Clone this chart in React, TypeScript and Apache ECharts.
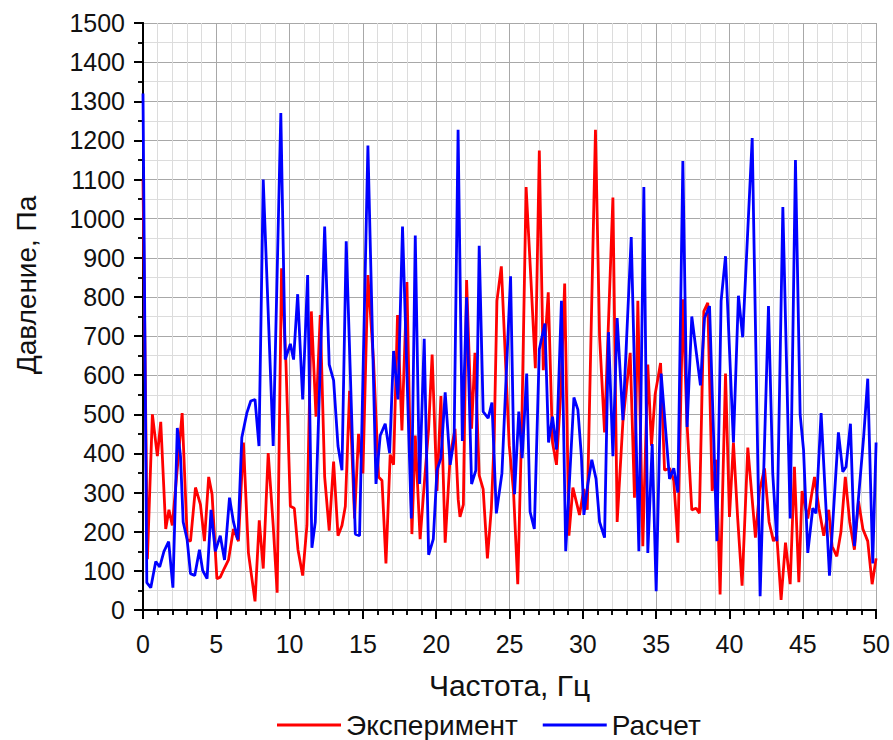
import React, { useEffect, useRef } from "react";
import * as echarts from "echarts";

// Частота, Гц / Давление, Па — Эксперимент
const expFreq = [
  0, 0.3, 0.64, 0.98, 1.21, 1.55, 1.77, 2.0, 2.67, 3.02, 3.24, 3.58, 3.92, 4.19, 4.48, 4.71,
  5.04, 5.27, 5.54, 5.83, 6.17, 6.51, 6.85, 7.19, 7.64, 7.93, 8.2, 8.54, 8.88, 9.15, 9.45, 9.75,
  10.05, 10.32, 10.57, 10.89, 11.18, 11.48, 11.8, 12.09, 12.39, 12.7, 13.0, 13.3, 13.57, 13.8,
  14.09, 14.43, 14.7, 15.0, 15.34, 15.73, 16.07, 16.3, 16.57, 16.86, 17.09, 17.36, 17.66, 18.0,
  18.34, 18.57, 18.9, 19.2, 19.48, 19.72, 20.05, 20.32, 20.61, 20.95, 21.28, 21.5, 21.62, 21.85,
  22.07, 22.41, 22.64, 22.93, 23.2, 23.49, 23.76, 23.95, 24.14, 24.44, 24.7, 24.98, 25.27, 25.56,
  25.85, 26.13, 26.45, 26.76, 27.03, 27.3, 27.64, 27.93, 28.2, 28.5, 28.76, 29.05, 29.32, 29.77,
  30.07, 30.3, 30.86, 31.14, 31.48, 32.05, 32.34, 32.73, 33.23, 33.52, 33.75, 34.09, 34.43, 34.68,
  34.93, 35.3, 35.57, 35.91, 36.2, 36.48, 36.82, 37.1, 37.43, 37.73, 37.95, 38.25, 38.52, 38.82,
  39.1, 39.36, 39.73, 40.0, 40.27, 40.55, 40.86, 41.25, 41.77, 42.05, 42.39, 42.7, 43.0, 43.23,
  43.52, 43.82, 44.14, 44.43, 44.73, 44.95, 45.34, 45.8, 46.1, 46.43, 46.77, 47.0, 47.32, 47.6,
  47.9, 48.2, 48.52, 48.8, 49.1, 49.43, 49.73, 50,
];
const expVal = [
  1100, 130, 500, 393, 481, 207, 256, 216, 503, 180, 176, 313, 269, 176, 340, 296,
  80, 84, 106, 128, 207, 176, 428, 146, 22, 229, 106, 401, 216, 44, 873, 631,
  265, 260, 154, 88, 216, 763, 494, 754, 340, 203, 379, 190, 216, 265,
  560, 234, 450, 349, 856, 631, 340, 331, 119, 397, 371, 754, 459, 838,
  194, 446, 181, 330, 463, 653, 304, 547, 172, 393, 463, 282, 238, 269,
  843, 463, 657, 344, 309, 132, 260, 437, 790, 878, 657, 420, 304, 66,
  500, 1081, 850, 618, 1174, 613, 812, 428, 371, 560, 834, 190, 313, 243,
  309, 256, 1227, 700, 454, 1054, 225, 481, 657, 287, 790, 163, 627, 420,
  551, 631, 357, 362, 331, 172, 794, 480, 256, 260, 247, 763, 785, 304,
  384, 40, 604, 238, 428, 240, 62, 415, 185, 304, 362, 225, 176, 190,
  26, 172, 66, 366, 71, 304, 234, 340, 260, 190, 256, 163, 137, 199,
  340, 225, 154, 278, 207, 176, 66, 132,
];

// Расчет
const calcFreq = [
  0, 0.26, 0.53, 0.87, 1.14, 1.43, 1.75, 2.04, 2.34, 2.56, 2.74, 3.01, 3.24, 3.53, 3.85, 4.07,
  4.37, 4.64, 4.93, 5.27, 5.56, 5.9, 6.17, 6.47, 6.74, 7.08, 7.35, 7.64, 7.91, 8.2, 8.88, 9.4,
  9.7, 10.05, 10.27, 10.55, 10.89, 11.23, 11.52, 11.75, 12.39, 12.7, 13.0, 13.3, 13.57, 13.86,
  14.48, 14.77, 15.34, 15.89, 16.18, 16.52, 16.82, 17.09, 17.39, 17.7, 18.3, 18.57, 18.86, 19.18,
  19.48, 19.8, 20.05, 20.32, 20.61, 20.95, 21.22, 21.49, 21.78, 22.07, 22.41, 22.7, 22.93, 23.2,
  23.54, 23.8, 24.1, 24.48, 25.07, 25.34, 25.63, 25.86, 26.17, 26.4, 26.69, 27.03, 27.41, 27.66,
  27.93, 28.2, 28.54, 28.83, 29.39, 29.66, 29.9, 30.07, 30.34, 30.61, 30.9, 31.14, 31.48, 31.75,
  32.05, 32.34, 32.73, 33.3, 33.82, 34.16, 34.43, 34.73, 35.0, 35.34, 35.91, 36.2, 36.48, 36.82,
  37.11, 37.43, 38.02, 38.3, 38.64, 39.14, 39.43, 39.73, 40.27, 40.61, 40.9, 41.55, 42.09, 42.66,
  42.95, 43.23, 43.64, 44.14, 44.5, 44.82, 45.05, 45.34, 45.68, 45.9, 46.25, 46.82, 47.43, 47.73,
  47.95, 48.25, 48.52, 49.14, 49.43, 49.77, 50,
];
const calcVal = [
  1320, 70, 57, 124, 110, 150, 175, 57, 465, 392, 225, 180, 93, 88, 154, 101,
  80, 256, 150, 190, 128, 287, 225, 180, 441, 503, 534, 538, 419, 1100, 419, 1270,
  640, 680, 640, 807, 538, 856, 159, 225, 980, 627, 587, 419, 357, 942,
  194, 190, 1187, 322, 446, 476, 401, 662, 538, 980, 234, 957, 322, 693,
  141, 181, 357, 388, 556, 371, 437, 1227, 432, 799, 322, 357, 931, 507,
  490, 530, 247, 349, 853, 296, 507, 388, 604, 251, 207, 666, 732, 428,
  494, 410, 790, 150, 543, 512, 393, 243, 322, 384, 335, 225, 185, 710,
  393, 746, 485, 953, 150, 1081, 146, 424, 48, 604, 335, 362, 300, 1147,
  468, 750, 574, 746, 777, 176, 790, 904, 428, 803, 697, 1206, 35, 777,
  349, 176, 1030, 234, 1150, 499, 410, 146, 260, 247, 503, 88, 454, 353,
  366, 476, 163, 437, 591, 119, 428,
];

const seriesNames = ["Эксперимент", "Расчет"];
const seriesColors = ["#ff0000", "#0000ff"];
const xTitle = "Частота, Гц";
const yTitle = "Давление, Па";

const FONT = "'Liberation Sans', Arial, sans-serif";

export default function App() {
  const ref = useRef<HTMLDivElement>(null);

  useEffect(() => {
    if (!ref.current) return;
    const chart = echarts.init(ref.current, null, { renderer: "svg" });

    const expData = expFreq.map((f, i) => [f, expVal[i]]);
    const calcData = calcFreq.map((f, i) => [f, calcVal[i]]);

    const axisLine = { show: true, lineStyle: { color: "#000", width: 2 } };
    const majorSplit = { show: true, lineStyle: { color: "#a8a8a8", width: 1 } };
    const minorSplit = { show: true, lineStyle: { color: "#dcdcdc", width: 1 } };

    chart.setOption({
      animation: false,
      backgroundColor: "#ffffff",
      grid: { left: 143, right: 15, top: 23, bottom: 130, containLabel: false },
      legend: {
        top: 711,
        left: 277,
        padding: 0,
        icon: "rect",
        itemWidth: 64,
        itemHeight: 3,
        itemGap: 25,
        textStyle: { fontFamily: FONT, fontSize: 28, color: "#111" },
        data: seriesNames,
      },
      graphic: [
        {
          type: "text",
          x: 26,
          y: 285,
          rotation: Math.PI / 2,
          style: {
            text: yTitle,
            fontFamily: FONT,
            fontSize: 28,
            fill: "#111",
            align: "center",
            verticalAlign: "middle",
          },
        },
      ],
      xAxis: [
        {
          type: "value",
          min: 0,
          max: 50,
          interval: 5,
          name: xTitle,
          nameLocation: "middle",
          nameGap: 60,
          nameTextStyle: { fontFamily: FONT, fontSize: 30, color: "#111" },
          axisLine,
          axisTick: { show: true, inside: false, length: 9, lineStyle: { color: "#000", width: 2 } },
          minorTick: { show: true, splitNumber: 5, length: 5, lineStyle: { color: "#000", width: 1.5 } },
          axisLabel: { fontFamily: FONT, fontSize: 25, color: "#111", margin: 21 },
          splitLine: majorSplit,
          minorSplitLine: minorSplit,
        },
        {
          type: "value",
          position: "top",
          min: 0,
          max: 50,
          interval: 5,
          axisLine,
          axisTick: { show: true, inside: true, length: 8, lineStyle: { color: "#000", width: 2 } },
          minorTick: { show: true, splitNumber: 5, length: 5, lineStyle: { color: "#000", width: 1.5 } },
          axisLabel: { show: false },
          splitLine: { show: false },
        },
      ],
      yAxis: [
        {
          type: "value",
          min: 0,
          max: 1500,
          interval: 100,
          axisLine,
          axisTick: { show: true, inside: false, length: 9, lineStyle: { color: "#000", width: 2 } },
          minorTick: { show: true, splitNumber: 2, length: 5, lineStyle: { color: "#000", width: 1.5 } },
          axisLabel: {
            fontFamily: FONT,
            fontSize: 25,
            color: "#111",
            margin: 18,
            formatter: (v: number) => String(v),
          },
          splitLine: majorSplit,
          minorSplitLine: minorSplit,
        },
        {
          type: "value",
          position: "right",
          min: 0,
          max: 1500,
          interval: 100,
          axisLine,
          axisTick: { show: true, inside: true, length: 8, lineStyle: { color: "#000", width: 2 } },
          minorTick: { show: true, splitNumber: 2, length: 5, lineStyle: { color: "#000", width: 1.5 } },
          axisLabel: { show: false },
          splitLine: { show: false },
        },
      ],
      series: [
        {
          name: seriesNames[0],
          type: "line",
          xAxisIndex: 0,
          yAxisIndex: 0,
          data: expData,
          showSymbol: false,
          symbol: "none",
          color: seriesColors[0],
          lineStyle: { color: seriesColors[0], width: 2.8 },
          z: 2,
        },
        {
          name: seriesNames[1],
          type: "line",
          xAxisIndex: 0,
          yAxisIndex: 0,
          data: calcData,
          showSymbol: false,
          symbol: "none",
          color: seriesColors[1],
          lineStyle: { color: seriesColors[1], width: 2.8 },
          z: 3,
        },
      ],
    });

    return () => chart.dispose();
  }, []);

  return (
    <div
      ref={ref}
      style={{ position: "fixed", left: 0, top: 0, width: 893, height: 740, background: "#fff" }}
    />
  );
}
